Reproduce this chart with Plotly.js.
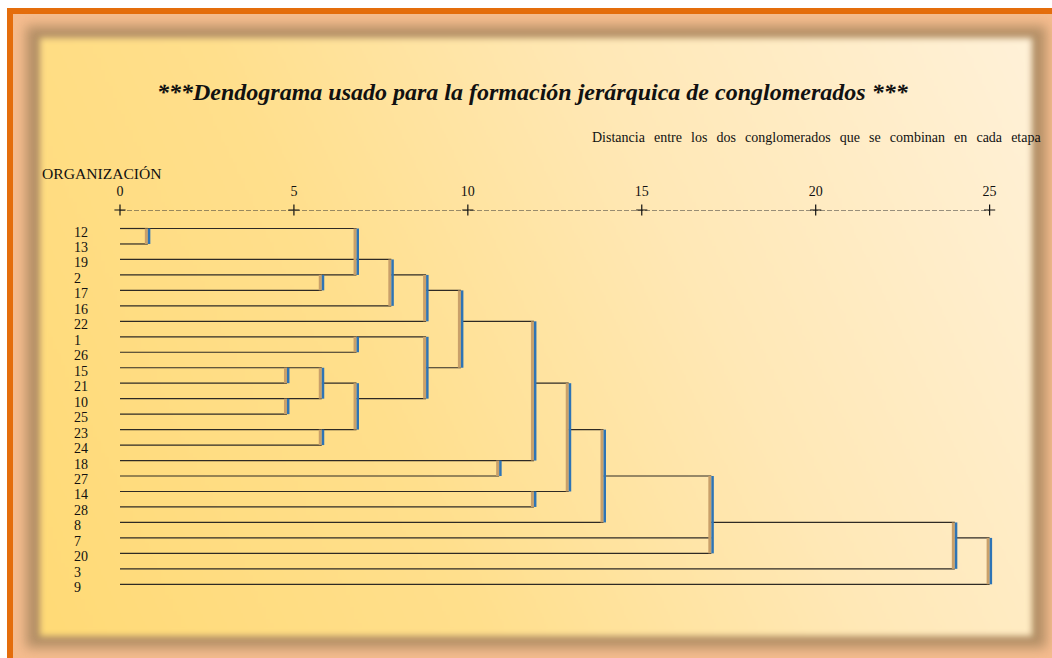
<!DOCTYPE html>
<html>
<head>
<meta charset="utf-8">
<script src="https://cdn.plot.ly/plotly-3.0.1.min.js"></script>
<style>
  html, body { margin:0; padding:0; width:1052px; height:658px; overflow:hidden; background:#ffffff; }
  #marco { position:absolute; left:7px; top:8px; width:1100px; height:700px;
           border-left:6px solid #E46D0C; border-top:6px solid #E46D0C; background:#F5BC8E; }
  #sombra { position:absolute; left:26px; top:26px; width:1020px; height:622px;
            background:#B38F66; filter:blur(6px); }
  #panel { position:absolute; left:40px; top:38px; width:992px; height:598px;
           background:linear-gradient(65deg, #FFDA76 0%, #FFDF8C 35%, #FFE8B6 65%, #FFF1D8 100%);
           filter:blur(3px); }
  #plot { position:absolute; left:0; top:0; width:1052px; height:658px; }
</style>
</head>
<body>
<div id="marco"></div>
<div id="sombra"></div>
<div id="panel"></div>
<div id="plot"></div>
<script>
// hojas del dendrograma, de arriba a abajo
var hojas = ['12','13','19','2','17','16','22','1','26','15','21','10','25','23','24','18','27','14','28','8','7','20','3','9'];

// uniones: filas que se juntan, distancia reescalada (0-25), fila donde sigue el conglomerado
var union_filas = [[0,1],[9,10],[11,12],[3,4],[9,11],[13,14],[7,8],[0,2,3],[10,13],[2,5],[3,6],[7,11],
                   [4,9],[15,16],[17,18],[6,15],[10,17],[13,19],[16,20,21],[19,22],[20,23]];
var union_dist = [0.8,4.8,4.8,5.8,5.8,5.8,6.8,6.8,6.8,7.8,8.8,8.8,9.8,10.9,11.9,11.9,12.9,13.9,17.0,24.0,25.0];
var union_salida = [0,9,11,3,10,13,7,2,11,3,4,9,6,15,17,10,13,16,19,20,null];

var ticks_x = [0,5,10,15,20,25];

var fuente = '"Liberation Serif", "Times New Roman", serif';

// escala vertical: fila 0 arriba
var y_top = -1.196;
var y_bottom = 25.307;

// construir segmentos
var inicio = hojas.map(function(){ return 0; });
var hx = [], hy = [];
var shapes = [];

for (var i = 0; i < union_filas.length; i++) {
    var filas = union_filas[i];
    var d = union_dist[i];
    var fmin = Math.min.apply(null, filas);
    var fmax = Math.max.apply(null, filas);
    filas.forEach(function(f){
        hx.push(inicio[f], d, null);
        hy.push(f, f, null);
    });
    // linea vertical: sombra + azul
    shapes.push({type:'rect', xref:'x', yref:'y', xsizemode:'pixel', xanchor:d, x0:-3, x1:0,
                 y0:fmin, y1:fmax, fillcolor:'#C9A06A', line:{width:0}, layer:'above'});
    shapes.push({type:'rect', xref:'x', yref:'y', xsizemode:'pixel', xanchor:d, x0:0, x1:2.5,
                 y0:fmin, y1:fmax, fillcolor:'#2E74B5', line:{width:0}, layer:'above'});
    if (union_salida[i] !== null) inicio[union_salida[i]] = d;
}

var traza_lineas = {x:hx, y:hy, mode:'lines', type:'scatter', hoverinfo:'skip',
                    line:{color:'#2e2a24', width:1.2}, showlegend:false};

var traza_regla = {x:ticks_x, y:ticks_x.map(function(){ return y_top; }), mode:'lines+markers', type:'scatter',
                   cliponaxis:false, hoverinfo:'skip', showlegend:false,
                   line:{color:'#333', width:1, dash:'5px,2px'},
                   marker:{symbol:'cross-thin', size:8, color:'#111', line:{width:1.2, color:'#111'}}};

var subtitulo = 'Distancia entre los dos conglomerados que se combinan en cada etapa'.split(' ').join(' \u2009\u2009');

var anotaciones = [];
hojas.forEach(function(h, k){
    anotaciones.push({text:h, xref:'paper', yref:'y', x:-0.0541, y:k, xanchor:'left', yanchor:'middle',
                      yshift:-3.5, showarrow:false, font:{family:fuente, size:14, color:'#111'}});
});
anotaciones.push({text:'<b><i>***Dendograma usado para la formación jerárquica de conglomerados ***</i></b>',
                  xref:'paper', yref:'paper', x:0.466, y:1.2878, xanchor:'center', yanchor:'middle',
                  showarrow:false, font:{family:fuente, size:24, color:'#111'}});
anotaciones.push({text:subtitulo,
                  xref:'paper', yref:'paper', x:1.0401, y:1.178, xanchor:'right', yanchor:'middle',
                  showarrow:false, font:{family:fuente, size:14, color:'#111'}});
anotaciones.push({text:'ORGANIZACIÓN', xref:'paper', yref:'paper', x:-0.0901, y:1.0902,
                  xanchor:'left', yanchor:'middle', showarrow:false, font:{family:fuente, size:15.6, color:'#111'}});

var layout = {
    width:1052, height:658,
    margin:{l:120, r:44.6, t:210, b:38},
    paper_bgcolor:'rgba(0,0,0,0)', plot_bgcolor:'rgba(0,0,0,0)',
    xaxis:{range:[0,25.5], side:'top', tickvals:ticks_x, ticktext:ticks_x.map(String), ticks:'',
           showgrid:false, zeroline:false, showline:false, ticklabelstandoff:10,
           tickfont:{family:fuente, size:14, color:'#111'}},
    yaxis:{range:[y_bottom, y_top], showticklabels:false, showgrid:false, zeroline:false, showline:false, ticks:''},
    shapes:shapes,
    annotations:anotaciones
};

Plotly.newPlot('plot', [traza_lineas, traza_regla], layout, {displayModeBar:false, staticPlot:true});
</script>
</body>
</html>
